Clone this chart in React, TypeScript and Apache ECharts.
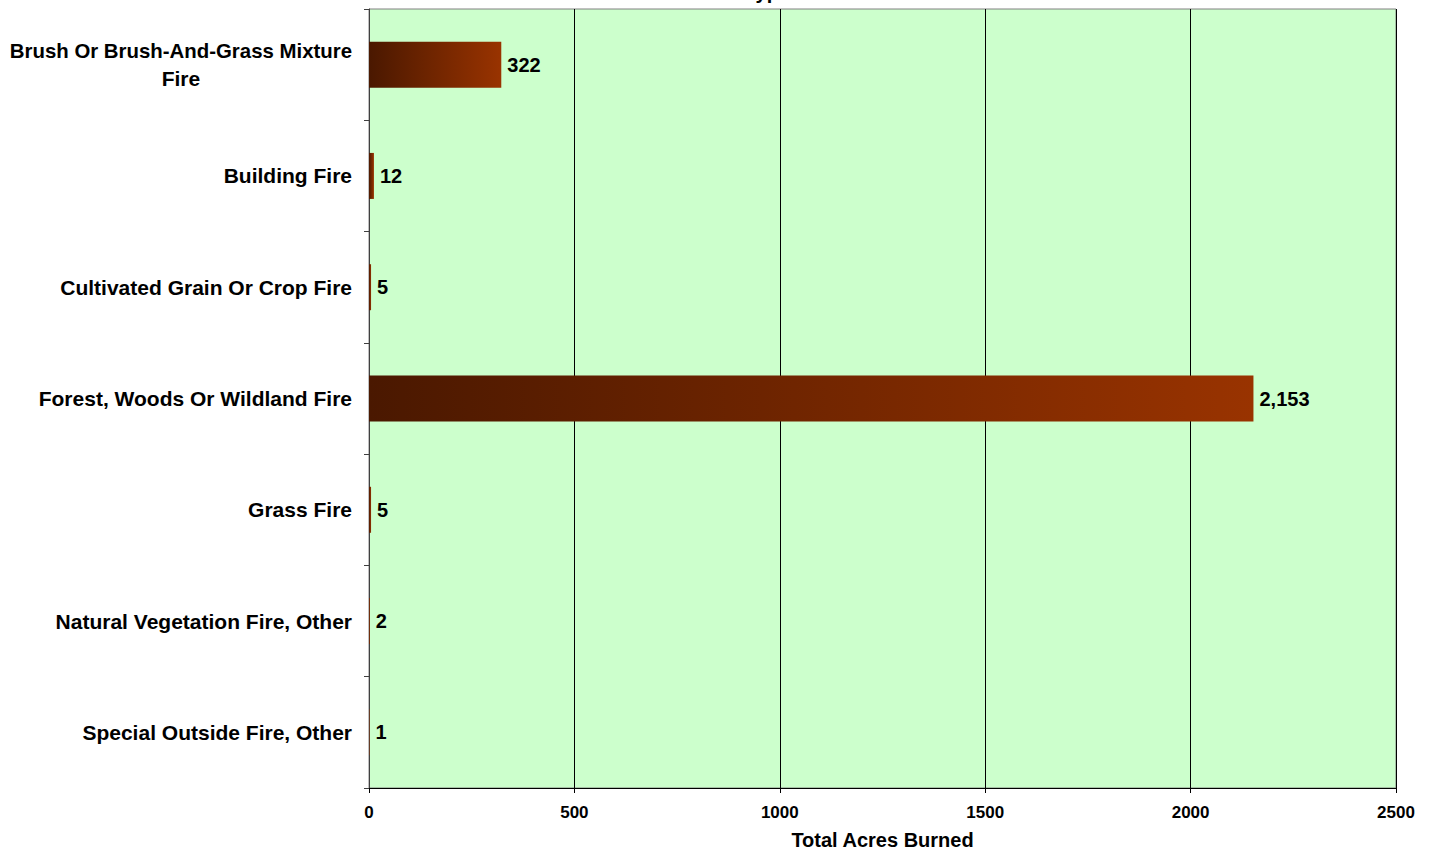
import React, { useEffect, useRef } from "react";
import * as echarts from "echarts";

const categories = [
  "Brush Or Brush-And-Grass Mixture Fire",
  "Building Fire",
  "Cultivated Grain Or Crop Fire",
  "Forest, Woods Or Wildland Fire",
  "Grass Fire",
  "Natural Vegetation Fire, Other",
  "Special Outside Fire, Other",
];
const acres = [322, 12, 5, 2153, 5, 2, 1];
const xTicks = { min: 0, max: 2500, interval: 500 };
const titleTail = "Incident Type";
const xAxisTitle = "Total Acres Burned";

const FONT = "'Liberation Sans', Arial, sans-serif";

export default function App() {
  const ref = useRef<HTMLDivElement>(null);
  useEffect(() => {
    document.body.style.margin = "0";
    const chart = echarts.init(ref.current!, null, { renderer: "svg" });
    chart.setOption({
      animation: false,
      backgroundColor: "#ffffff",
      textStyle: { fontFamily: FONT },
      graphic: [
        {
          type: "text",
          x: 790,
          y: -8,
          style: {
            text: titleTail,
            align: "right",
            verticalAlign: "middle",
            font: `bold 20px ${FONT}`,
            fill: "#000",
          },
        },
      ],
      grid: {
        left: 369,
        right: 39,
        top: 9,
        bottom: 64,
        outerBoundsMode: "none",
        containLabel: false,
        show: true,
        backgroundColor: "#CCFFCC",
        borderColor: "#808080",
        borderWidth: 1,
      },
      xAxis: {
        type: "value",
        min: xTicks.min,
        max: xTicks.max,
        interval: xTicks.interval,
        name: xAxisTitle,
        nameLocation: "middle",
        nameGap: 42,
        nameTextStyle: { fontFamily: FONT, fontWeight: "bold", fontSize: 20, color: "#000" },
        axisLine: { show: true, lineStyle: { color: "#000", width: 1 } },
        axisTick: { show: true, length: 5, lineStyle: { color: "#000" } },
        axisLabel: {
          fontFamily: FONT,
          fontWeight: "bold",
          fontSize: 17,
          color: "#000",
          margin: 16,
          formatter: (v: number) => String(v),
        },
        splitLine: { show: true, lineStyle: { color: "#000", width: 1 } },
      },
      yAxis: {
        type: "category",
        data: categories,
        inverse: true,
        axisLine: { show: true, lineStyle: { color: "#404040", width: 1 } },
        axisTick: { show: true, length: 5, alignWithLabel: false, lineStyle: { color: "#404040" } },
        axisLabel: {
          fontFamily: FONT,
          fontWeight: "bold",
          fontSize: 21,
          color: "#000",
          margin: 17,
          lineHeight: 28,
          formatter: (v: string) => {
            if (v.startsWith("Brush")) {
              return "{a|Brush Or Brush-And-Grass Mixture}\n{b|Fire}";
            }
            return v;
          },
          rich: {
            a: { fontFamily: FONT, fontWeight: "bold", fontSize: 20.4, color: "#000", lineHeight: 28 },
            b: { fontFamily: FONT, fontWeight: "bold", fontSize: 21, color: "#000", lineHeight: 28, width: 342, align: "center" },
          },
        },
        splitLine: { show: false },
      },
      series: [
        {
          type: "bar",
          data: acres,
          barWidth: 46,
          itemStyle: {
            color: new echarts.graphic.LinearGradient(0, 0, 1, 0, [
              { offset: 0, color: "#4A1800" },
              { offset: 1, color: "#993300" },
            ]),
          },
          label: {
            show: true,
            position: "right",
            distance: 6,
            fontFamily: FONT,
            fontWeight: "bold",
            fontSize: 20,
            color: "#000",
            formatter: (p: any) => Number(p.value).toLocaleString("en-US"),
          },
        },
      ],
    });
    return () => chart.dispose();
  }, []);
  return <div ref={ref} style={{ width: 1435, height: 852 }} />;
}
